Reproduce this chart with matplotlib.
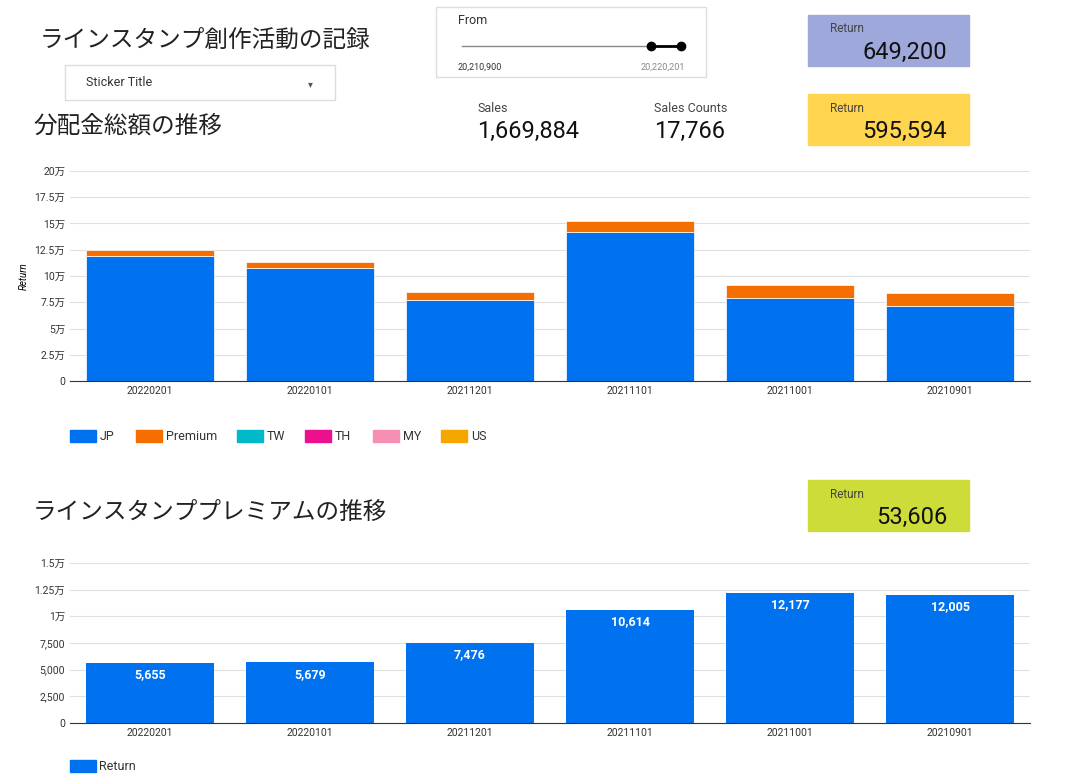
import matplotlib.pyplot as plt
from matplotlib.patches import Rectangle, FancyBboxPatch
from matplotlib.ticker import FuncFormatter
import numpy as np

plt.rcParams['font.family'] = ['Roboto', 'Noto Sans CJK JP', 'DejaVu Sans']

months = ["20220201", "20220101", "20211201", "20211101", "20211001", "20210901"]
jp = [119345, 107621, 77324, 141786, 79223, 71795]
premium = [5655, 5679, 7476, 10614, 12177, 12005]
legend_names = ["JP", "Premium", "TW", "TH", "MY", "US"]
legend_colors = ["#0072f0", "#f56e00", "#00b9c9", "#ec0f8e", "#f58fb3", "#f5a700"]

W, H = 1071, 777
fig = plt.figure(figsize=(W / 100, H / 100), dpi=100)

def box(x0, y0, x1, y1):
    return [x0 / W, 1 - y1 / H, (x1 - x0) / W, (y1 - y0) / H]

def ft(x, y, s, **kw):
    fig.text(x / W, 1 - y / H, s, **kw)

def man(v, _):
    if v == 0:
        return "0"
    if v >= 10000:
        return f"{v/10000:g}万"
    return f"{v:,.0f}"

def style(ax):
    for s in ["top", "right", "left"]:
        ax.spines[s].set_visible(False)
    ax.spines["bottom"].set_color("#333333")
    ax.grid(axis="y", color="#e0e0e0", lw=0.8)
    ax.set_axisbelow(True)
    ax.tick_params(length=0, labelsize=7.5, colors="#333333")
    ax.yaxis.set_major_formatter(FuncFormatter(man))

x = np.arange(len(months))

# top chart
ax1 = fig.add_axes(box(70, 171, 1030, 381))
ax1.bar(x, jp, 0.8, color=legend_colors[0], edgecolor="white", lw=0.5)
ax1.bar(x, premium, 0.8, bottom=jp, color=legend_colors[1], edgecolor="white", lw=0.5)
ax1.set_xlim(-0.5, 5.5)
ax1.set_ylim(0, 200000)
ax1.set_yticks(np.arange(0, 200001, 25000))
ax1.set_yticklabels(["0" if v == 0 else (f"{v//10000}万" if v % 50000 == 0 else "") for v in range(0, 200001, 25000)])
style(ax1)
ax1.set_xticks(x, months)
ax1.set_ylabel("Return", fontsize=7, style="italic", labelpad=4)

lx = [70, 136, 237, 305, 373, 441]
for px, n, c in zip(lx, legend_names, legend_colors):
    fig.patches.append(Rectangle((px / W, 1 - 442 / H), 26 / W, 12 / H, color=c, transform=fig.transFigure))
    ft(px + 30, 436, n, fontsize=9, va="center", color="#333333")

# bottom chart
ax2 = fig.add_axes(box(70, 563, 1030, 723))
bars = ax2.bar(x, premium, 0.8, color=legend_colors[0])
ax2.set_xlim(-0.5, 5.5)
ax2.set_ylim(0, 15000)
ax2.set_yticks(np.arange(0, 15001, 2500))
ax2.set_yticklabels(["0" if v == 0 else (man(v, 0) if v % 5000 == 0 else "") for v in range(0, 15001, 2500)])
style(ax2)
ax2.set_xticks(x, months)
for xi, v in zip(x, premium):
    ax2.text(xi, v - 500, f"{v:,}", ha="center", va="top", color="white", fontsize=9, fontweight="bold")
fig.patches.append(Rectangle((70 / W, 1 - 772 / H), 26 / W, 12 / H, color=legend_colors[0], transform=fig.transFigure))
ft(99, 766, "Return", fontsize=9, va="center", color="#333333")

# titles
ft(40, 40, "ラインスタンプ創作活動の記録", fontsize=17, va="center", color="#222222")
ft(33, 126, "分配金総額の推移", fontsize=17, va="center", color="#222222")
ft(33, 512, "ラインスタンププレミアムの推移", fontsize=17, va="center", color="#222222")

# dropdown
fig.patches.append(FancyBboxPatch((65 / W, 1 - 100 / H), 270 / W, 35 / H, boxstyle="square,pad=0",
                                  fc="white", ec="#dddddd", lw=1, transform=fig.transFigure))
ft(86, 82, "Sticker Title", fontsize=9, va="center", color="#333333")
ft(308, 84, "▾", fontsize=7, va="center", color="#555555")

# slider
fig.patches.append(FancyBboxPatch((436 / W, 1 - 77 / H), 270 / W, 70 / H, boxstyle="square,pad=0",
                                  fc="white", ec="#dddddd", lw=1, transform=fig.transFigure))
ft(458, 21, "From", fontsize=9, va="center", color="#333333")
fig.add_artist(plt.Line2D([462 / W, 681 / W], [1 - 46 / H] * 2, color="#888888", lw=1))
fig.add_artist(plt.Line2D([651 / W, 681 / W], [1 - 46 / H] * 2, color="black", lw=2, marker="o", ms=6))
ft(458, 67, "20,210,900", fontsize=6.5, va="center", color="#333333")
ft(685, 67, "20,220,201", fontsize=6.5, va="center", ha="right", color="#888888")

# score cards
cards = [(808, 15, 969, 66, "#9fa8da", "649,200"),
         (808, 94, 969, 145, "#ffd54f", "595,594"),
         (808, 480, 969, 531, "#cddc39", "53,606")]
for x0, y0, x1, y1, c, v in cards:
    fig.patches.append(Rectangle((x0 / W, 1 - y1 / H), (x1 - x0) / W, (y1 - y0) / H, color=c, transform=fig.transFigure))
    ft(830, y0 + 14, "Return", fontsize=8.5, va="center", color="#444444")
    ft(947, y0 + 37, v, fontsize=17, va="center", ha="right", color="#111111")

ft(477, 108, "Sales", fontsize=9, va="center", color="#444444")
ft(477, 131, "1,669,884", fontsize=17, va="center", color="#111111")
ft(654, 108, "Sales Counts", fontsize=9, va="center", color="#444444")
ft(654, 131, "17,766", fontsize=17, va="center", color="#111111")

fig.savefig("out.png", dpi=100)
